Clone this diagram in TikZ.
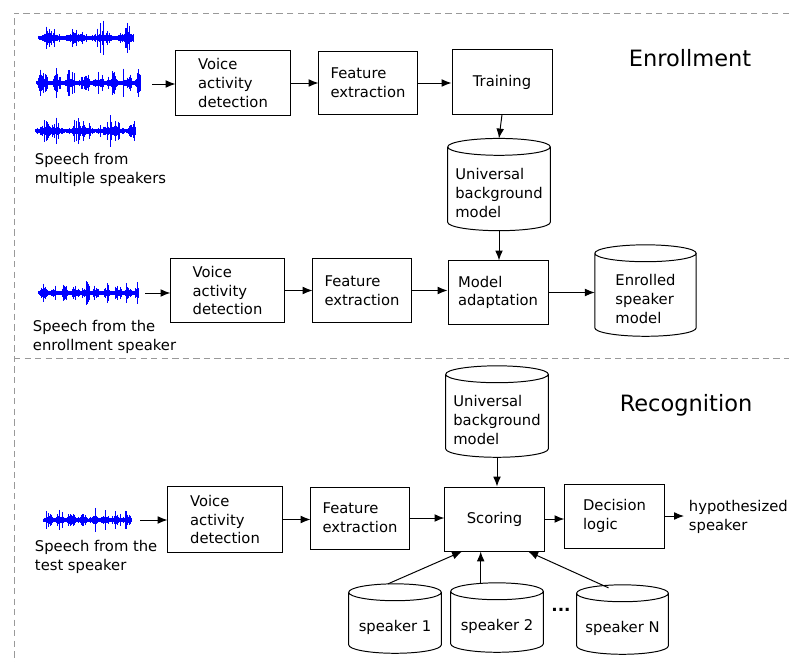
\documentclass[tikz,border=0pt]{standalone}
\usepackage{fontspec}
\setmainfont{DejaVu Sans}
\usetikzlibrary{arrows.meta,calc}

\begin{document}
\begin{tikzpicture}[x=0.025cm,y=-0.025cm,
    font=\fontsize{10.5}{13.2}\selectfont,
    box/.style={draw,line width=0.7pt,align=left},
    cyl/.style={align=left,inner sep=0pt},
    wave/.style={blue,line width=0.55pt},
    frame/.style={gray!80,line width=0.7pt,dash pattern=on 4.5pt off 3pt},
    >={Latex[length=7pt,width=5.5pt]}]
  \useasboundingbox (0,0) rectangle (789,662);
  % dashed frame
  \draw[frame] (789,13) -- (14,13) -- (14,662);
  \draw[frame] (14,358) -- (789,358);

  \node[font=\fontsize{16}{19}\selectfont] (tEnr) at (690,58) {Enrollment};
  \node[font=\fontsize{16}{19}\selectfont] (tRec) at (686,405) {Recognition};

  % waveforms
  \pgfmathsetseed{11}
  \foreach \xa/\ya/\len/\amp/\fq in {38/38/95/17/7, 36/83/104/21/13, 35/131/100/19/6, 38/293/100/14/17, 43/520/88/16/16} {
    \draw[wave,line width=0.4pt] (\xa,\ya) -- ++(\len,0);
    \foreach \k in {0,...,\len} {
      \pgfmathsetmacro\h{\amp*(0.08+0.92*rnd*rnd)*abs(sin(\k*\fq))^1.5+1.5}
      \draw[wave] (\xa+\k,\ya-\h) -- (\xa+\k,\ya+\h);
    }
  }
  \coordinate (wavA) at (152,84);
  \coordinate (wavB) at (145,293);
  \coordinate (wavC) at (140,520);

  \node[anchor=west,align=left] (srcA) at (30,170) {Speech from\\multiple speakers};
  \node[anchor=west,align=left] (srcB) at (28,337) {Speech from the\\enrollment speaker};
  \node[anchor=west,align=left] (srcC) at (30,557) {Speech from the\\test speaker};

  % enrollment
  \node[box,minimum width=2.85cm,minimum height=1.6cm] (vadA) at (233,83) {Voice\\activity\\detection};
  \node[box,minimum width=2.45cm,minimum height=1.58cm] (feA) at (368,83) {Feature\\extraction};
  \node[box,minimum width=2.5cm,minimum height=1.6cm] (train) at (502,82) {Training};
  \node[cyl,minimum width=2.55cm,minimum height=1.87cm] (ubmA) at (499,193) {Universal\\background\\model};
  \node[box,minimum width=2.5cm,minimum height=1.58cm] (adapt) at (498,292.5) {Model\\adaptation};
  \node[cyl,minimum width=2.52cm,minimum height=1.85cm] (enr) at (645.5,299) {Enrolled\\speaker\\model};
  \node[box,minimum width=2.83cm,minimum height=1.58cm] (vadB) at (227.5,290.5) {Voice\\activity\\detection};
  \node[box,minimum width=2.45cm,minimum height=1.58cm] (feB) at (362,290.5) {Feature\\extraction};

  % recognition
  \node[cyl,minimum width=2.55cm,minimum height=1.85cm] (ubmB) at (497,420) {Universal\\background\\model};
  \node[box,minimum width=2.48cm,minimum height=1.6cm] (score) at (494.5,519) {Scoring};
  \node[box,minimum width=2.48cm,minimum height=1.6cm] (decide) at (614.5,516) {Decision\\logic};
  \node[box,minimum width=2.85cm,minimum height=1.63cm] (vadC) at (225,519.5) {Voice\\activity\\detection};
  \node[box,minimum width=2.45cm,minimum height=1.55cm] (feC) at (360,518) {Feature\\extraction};
  \node[cyl,minimum width=2.3cm,minimum height=1.3cm] (spkA) at (395,627) {speaker 1};
  \node[cyl,minimum width=2.3cm,minimum height=1.3cm] (spkB) at (497,626) {speaker 2};
  \node[cyl,minimum width=2.28cm,minimum height=1.3cm] (spkN) at (622.5,628) {speaker N};
  \node[font=\large\bfseries] (dots) at (561,610) {...};
  \node[anchor=west,align=left] (hyp) at (684,517) {hypothesized\\speaker};

  % cylinder outlines
  \foreach \c in {ubmA,enr,ubmB,spkA,spkB,spkN} {
    \draw[line width=0.7pt] let \p1=(\c.north west), \p2=(\c.south east), \n1={(\x2-\x1)/2} in
      (\x1,\y1+6pt) arc[start angle=180,end angle=-180,x radius=\n1,y radius=6pt]
      (\x1,\y1+6pt) -- (\x1,\y2+6pt) arc[start angle=180,end angle=360,x radius=\n1,y radius=6pt] -- (\x2,\y1+6pt)
      (\x1+\n1,\y1+12pt) coordinate (\c-top);
  }

  % connectors
  \draw[->,line width=0.7pt] (wavA) -- (vadA.west |- wavA);
  \draw[->,line width=0.7pt] (vadA.east) -- (feA.west |- vadA.east);
  \draw[->,line width=0.7pt] (feA.east) -- (train.west |- feA.east);
  \draw[->,line width=0.7pt] (train.south) -- (ubmA-top);
  \draw[->,line width=0.7pt] (ubmA.south) -- (ubmA.south |- adapt.north);
  \draw[->,line width=0.7pt] (wavB) -- (vadB.west |- wavB);
  \draw[->,line width=0.7pt] (vadB.east) -- (feB.west |- vadB.east);
  \draw[->,line width=0.7pt] (feB.east) -- (adapt.west |- feB.east);
  \draw[->,line width=0.7pt] (adapt.east) -- (enr.west |- adapt.east);

  \draw[->,line width=0.7pt] (wavC) -- (vadC.west |- wavC);
  \draw[->,line width=0.7pt] (vadC.east) -- (feC.west |- vadC.east);
  \draw[->,line width=0.7pt] (feC.east) -- (score.west |- feC.east);
  \draw[->,line width=0.7pt] (score.east) -- (decide.west |- score.east);
  \draw[->,line width=0.7pt] (decide.east) -- (hyp.west |- decide.east);
  \draw[->,line width=0.7pt] (ubmB.south) -- (ubmB.south |- score.north);
  \draw[->,line width=0.7pt] ($(spkA-top)+(-7,0)$) -- (score.225);
  \draw[->,line width=0.7pt] (spkB-top -| score.247) -- (score.247);
  \draw[->,line width=0.7pt] ($(spkN-top)+(-14,3)$) -- (score.316);
\end{tikzpicture}
\end{document}
